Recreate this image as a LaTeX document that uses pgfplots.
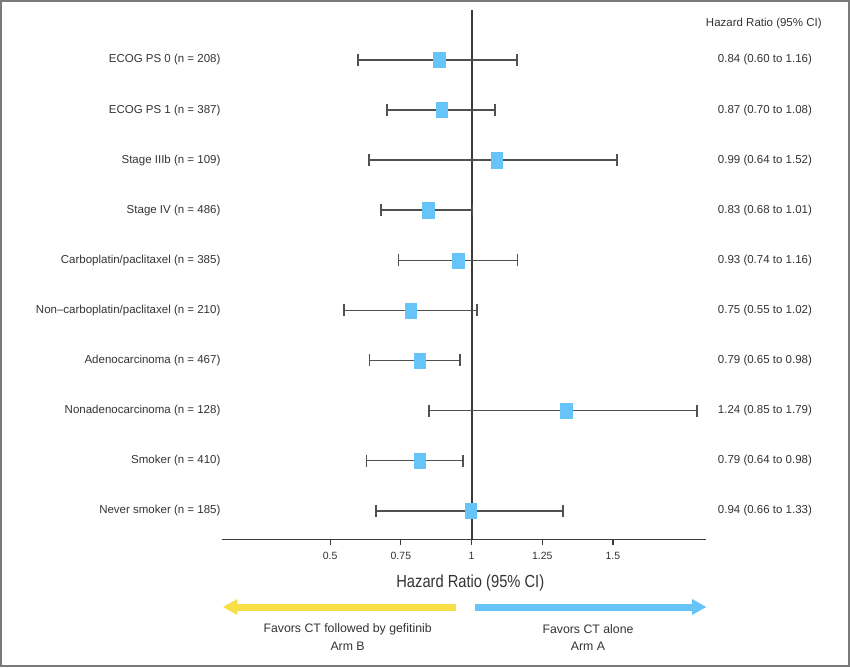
\documentclass[border=0pt]{standalone}
\usepackage{fontspec}
\setmainfont{Liberation Sans}
\newfontfamily\condfont{Liberation Sans}[FakeStretch=0.84]
\usepackage{pgfplots}
\usepackage{pgfplotstable}
\pgfplotsset{compat=1.18}
\usetikzlibrary{arrows.meta}
\definecolor{sqblue}{HTML}{66C4F8}
\definecolor{arryellow}{HTML}{F8DF45}
\definecolor{txt}{HTML}{333333}
\definecolor{linegray}{HTML}{3A3A3A}
\definecolor{cigray}{HTML}{505050}
\definecolor{framegray}{HTML}{7A7A7A}

\pgfplotstableread{
y hr lo hi
1 0.997 0.661 1.324
2 0.817 0.629 0.969
3 1.334 0.849 1.798
4 0.817 0.639 0.959
5 0.785 0.548 1.020
6 0.953 0.742 1.163
7 0.846 0.680 1.003
8 1.088 0.638 1.515
9 0.895 0.700 1.082
10 0.886 0.598 1.161
}\data

\begin{document}
\begin{tikzpicture}
\draw[framegray, line width=2pt] (-220.6pt,-126.5pt) rectangle (627.4pt,538.5pt);
\begin{axis}[
  at={(0pt,0pt)}, anchor=south west,
  scale only axis, width=484.1pt, height=529.5pt,
  xmin=0.116, xmax=1.828, ymin=0.425, ymax=10.998,
  axis x line=bottom, axis y line=left,
  axis line style={-, linegray, line width=1.5pt},
  y axis line style={draw=none},
  xtick={0.5,0.75,1,1.25,1.5},
  xticklabels={0.5,0.75,1,1.25,1.5},
  tick align=outside,
  x tick style={linegray, line width=1.2pt},
  major tick length=5pt,
  ytick={1,...,10},
  yticklabels={Never smoker (n = 185), Smoker (n = 410), Nonadenocarcinoma (n = 128), Adenocarcinoma (n = 467), Non–carboplatin/paclitaxel (n = 210), Carboplatin/paclitaxel (n = 385), Stage IV (n = 486), Stage IIIb (n = 109), ECOG PS 1 (n = 387), ECOG PS 0 (n = 208)},
  y tick style={draw=none},
  xticklabel style={font=\fontsize{10.5}{12}\selectfont, text=txt, yshift=-4pt},
  yticklabel style={font=\fontsize{11.5}{13}\selectfont, text=txt, inner sep=0pt, xshift=4pt},
  clip=false,
  ci/.style={cigray, line width=1.6pt, mark=|, mark size=6pt, mark options={solid, line width=1.6pt}},
]
\addplot[color=linegray, line width=1.9pt] coordinates {(1,0.425) (1,10.998)};
\addplot[ci] coordinates {(0.661,1) (1.324,1)};
\addplot[ci] coordinates {(0.629,2) (0.969,2)};
\addplot[ci] coordinates {(0.849,3) (1.798,3)};
\addplot[ci] coordinates {(0.639,4) (0.959,4)};
\addplot[ci] coordinates {(0.548,5) (1.020,5)};
\addplot[ci] coordinates {(0.742,6) (1.163,6)};
\addplot[ci] coordinates {(0.680,7) (1.003,7)};
\addplot[ci] coordinates {(0.638,8) (1.515,8)};
\addplot[ci] coordinates {(0.700,9) (1.082,9)};
\addplot[ci] coordinates {(0.598,10) (1.161,10)};
\addplot[only marks, color=sqblue, mark=square*, mark size=7.6pt, mark options={fill=sqblue, draw=sqblue, line width=0.4pt, xscale=0.75}]
  table[x=hr, y=y] {\data};
\begin{scope}[every node/.style={font=\fontsize{11.5}{13}\selectfont, text=txt}]
\node at (axis cs:2.0375,10) {0.84 (0.60 to 1.16)};
\node at (axis cs:2.0375,9) {0.87 (0.70 to 1.08)};
\node at (axis cs:2.0375,8) {0.99 (0.64 to 1.52)};
\node at (axis cs:2.0375,7) {0.83 (0.68 to 1.01)};
\node at (axis cs:2.0375,6) {0.93 (0.74 to 1.16)};
\node at (axis cs:2.0375,5) {0.75 (0.55 to 1.02)};
\node at (axis cs:2.0375,4) {0.79 (0.65 to 0.98)};
\node at (axis cs:2.0375,3) {1.24 (0.85 to 1.79)};
\node at (axis cs:2.0375,2) {0.79 (0.64 to 0.98)};
\node at (axis cs:2.0375,1) {0.94 (0.66 to 1.33)};
\end{scope}
\end{axis}
\node[font=\fontsize{11.5}{13}\selectfont, text=txt] at (542.2pt,516.2pt) {Hazard Ratio (95\% CI)};
\node[font=\condfont\fontsize{17.5}{20}\selectfont, text=txt] at (248.7pt,-43.2pt) {Hazard Ratio (95\% CI)};
\draw[arryellow, line width=7pt, -{Triangle[length=14.5pt,width=15pt]}] (234.1pt,-67.5pt) -- (1.2pt,-67.5pt);
\draw[sqblue, line width=7pt, -{Triangle[length=14.5pt,width=15pt]}] (253.6pt,-67.5pt) -- (484.9pt,-67.5pt);
\begin{scope}[every node/.style={font=\fontsize{12.3}{14}\selectfont, text=txt}]
\node at (126pt,-89.5pt) {Favors CT followed by gefitinib};
\node at (126pt,-107.2pt) {Arm B};
\node at (366.4pt,-89.5pt) {Favors CT alone};
\node at (366.4pt,-107.2pt) {Arm A};
\end{scope}
\pgfresetboundingbox
\useasboundingbox (-221.6pt,-127.5pt) rectangle (628.4pt,539.5pt);
\end{tikzpicture}
\end{document}
